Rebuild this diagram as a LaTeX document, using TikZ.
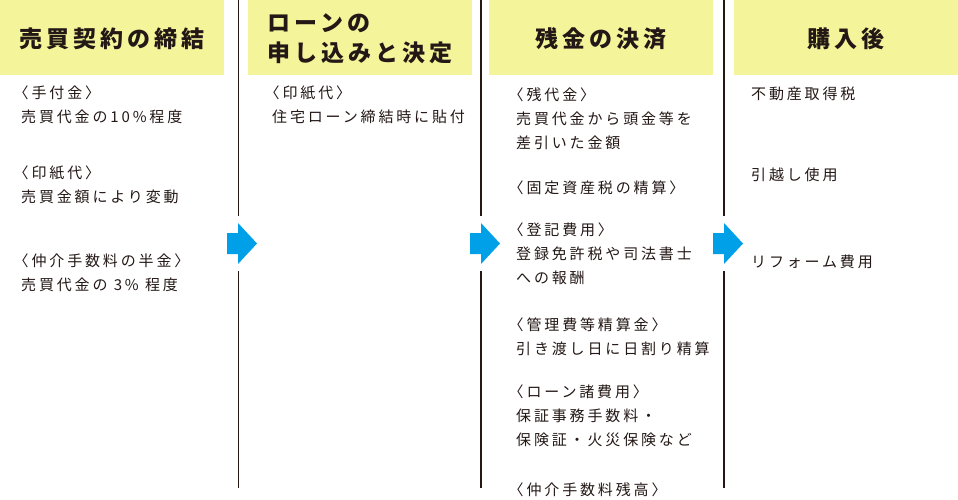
\documentclass[tikz,border=0pt]{standalone}
\usepackage{fontspec}
\setmainfont{Noto Sans CJK JP}
\newfontfamily\bodyfont[LetterSpace=19]{Noto Sans CJK JP}
\newfontfamily\headfont[LetterSpace=18]{Noto Sans CJK JP}
\definecolor{headyellow}{HTML}{F4F49A}
\definecolor{arrowblue}{HTML}{00A0E9}
\definecolor{txt}{HTML}{231815}
% opening bracket without its blank left half
\newcommand\obr{\kern-.5em〈}
\begin{document}
\begin{tikzpicture}[x=1pt, y=-1pt,
    head/.style={fill=headyellow, minimum width=224pt, minimum height=75pt, inner sep=0pt,
        text depth=0pt, align=left, text=txt, font=\headfont\bfseries\fontsize{23}{30}\selectfont},
    item/.style={anchor=base west, inner sep=0pt, align=left, text=txt,
        font=\bodyfont\fontsize{15}{24}\selectfont},
    sep/.style={line width=1.3pt, txt}]
    \useasboundingbox (0, 0) rectangle (958, 499);

    % Headers
    \node[head] (buy) at (112, 37.5) {売買契約の締結};
    \node[head] (loan) at (360, 37.5) {ローンの\\申し込みと決定};
    \node[head] (settle) at (601, 37.5) {残金の決済};
    \node[head] (after) at (846, 37.5) {購入後};

    % Separators
    \draw[sep] (238.5, 0) -- (238.5, 216);
    \draw[sep] (238.5, 271) -- (238.5, 488);
    \draw[sep] (481, 0) -- (481, 216);
    \draw[sep] (481, 271) -- (481, 488);
    \draw[sep] (724, 0) -- (724, 216);
    \draw[sep] (724, 271) -- (724, 488);

    % Arrows
    \fill[arrowblue] (227, 233) -- (238, 233) -- (238, 223) -- (257, 243.5) -- (238, 264) -- (238, 254) -- (227, 254) -- cycle;
    \fill[arrowblue] (470, 233) -- (481, 233) -- (481, 223) -- (500, 243.5) -- (481, 264) -- (481, 254) -- (470, 254) -- cycle;
    \fill[arrowblue] (713, 233) -- (724, 233) -- (724, 223) -- (743, 243.5) -- (724, 264) -- (724, 254) -- (713, 254) -- cycle;

    % Contract (nodes sit on their last baseline)
    \node[item] (deposit) at (21, 122) {\obr 手付金〉\\売買代金の10\%程度};
    \node[item] (stamp1) at (21, 202) {\obr 印紙代〉\\売買金額により変動};
    \node[item] (fee1) at (21, 290) {\obr 仲介手数料の半金〉\\売買代金の 3\% 程度};

    % Loan
    \node[item] (stamp2) at (272, 122) {\obr 印紙代〉\\住宅ローン締結時に貼付};

    % Settlement
    \node[item] (rest) at (516, 148) {\obr 残代金〉\\売買代金から頭金等を\\差引いた金額};
    \node[item] (tax) at (516, 193) {\obr 固定資産税の精算〉};
    \node[item] (regist) at (516, 283) {\obr 登記費用〉\\登録免許税や司法書士\\への報酬};
    \node[item] (manage) at (516, 354) {\obr 管理費等精算金〉\\引き渡し日に日割り精算};
    \node[item] (loanfee) at (516, 445) {\obr ローン諸費用〉\\保証事務手数料・\\保険証・火災保険など};
    \node[item] (fee2) at (516, 495) {\obr 仲介手数料残高〉};

    % After purchase
    \node[item] (acq) at (751, 99.5) {不動産取得税};
    \node[item] (move) at (751, 180.5) {引越し使用};
    \node[item] (reform) at (751, 267) {リフォーム費用};
\end{tikzpicture}
\end{document}
